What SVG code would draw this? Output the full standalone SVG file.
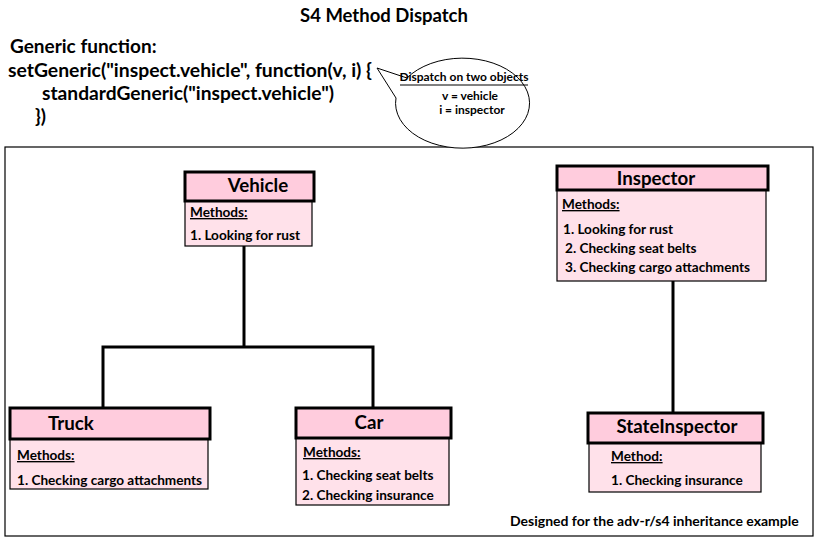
<svg xmlns="http://www.w3.org/2000/svg" width="818" height="543" viewBox="0 0 818 543">
<defs>
<style>
text{font-family:"Lato","Liberation Sans",sans-serif;font-weight:bold;fill:#000}
.title{font-size:18.5px}
.code{font-size:19px}
.hdr{fill:#FFCCDD;stroke:#000;stroke-width:3}
.body{fill:#FFE1EA;stroke:#000;stroke-width:1.2}
.name{font-size:18.7px}
.m{font-size:13.6px}
.u{text-decoration:underline}
.conn{fill:none;stroke:#000;stroke-width:3}
.bub{font-size:12px}
</style>
</defs>
<rect width="818" height="543" fill="#fff"/>
<text class="title" x="384" y="22" text-anchor="middle">S4 Method Dispatch</text>
<g id="code">
<text class="code" x="10" y="53">Generic function:</text>
<text class="code" x="8" y="77" textLength="364" lengthAdjust="spacingAndGlyphs">setGeneric("inspect.vehicle", function(v, i) {</text>
<text class="code" x="42" y="100" textLength="292" lengthAdjust="spacingAndGlyphs">standardGeneric("inspect.vehicle")</text>
<text class="code" x="35" y="123">})</text>
</g>
<rect x="5" y="147" width="808" height="389" fill="none" stroke="#000" stroke-width="1.2"/>
<g id="bubble">
<path d="M407,78 A67,45 0 1 1 396,98 L377,68 Z" fill="#fff" stroke="#000" stroke-width="1"/>
<text class="bub" x="464" y="81" text-anchor="middle">Dispatch on two objects</text>
<line x1="400" y1="85" x2="528" y2="85" stroke="#000" stroke-width="1"/>
<text class="bub" x="470" y="100" text-anchor="middle">v = vehicle</text>
<text class="bub" x="472" y="114" text-anchor="middle">i = inspector</text>
</g>
<g id="connectors">
<polyline class="conn" points="244,246 244,348"/>
<polyline class="conn" points="103,408 103,347 373,347 373,408"/>
<polyline class="conn" points="673,281 673,413"/>
</g>
<g id="vehicle">
<rect class="body" x="185" y="201" width="127" height="45"/>
<rect class="hdr" x="185" y="172" width="129" height="29"/>
<text class="name" x="258" y="192" text-anchor="middle">Vehicle</text>
<text class="m u" x="190" y="217">Methods:</text>
<text class="m" x="190" y="240">1. Looking for rust</text>
</g>
<g id="inspector">
<rect class="body" x="557" y="190" width="209" height="91"/>
<rect class="hdr" x="557" y="166" width="211" height="24"/>
<text class="name" x="656" y="185" text-anchor="middle">Inspector</text>
<text class="m u" x="562" y="209">Methods:</text>
<text class="m" x="563" y="234">1. Looking for rust</text>
<text class="m" x="565" y="253">2. Checking seat belts</text>
<text class="m" x="565" y="272">3. Checking cargo attachments</text>
</g>
<g id="truck">
<rect class="body" x="10" y="439" width="198" height="50"/>
<rect class="hdr" x="10" y="408" width="200" height="31"/>
<text class="name" x="48" y="430">Truck</text>
<text class="m u" x="17" y="460">Methods:</text>
<text class="m" x="17" y="485">1. Checking cargo attachments</text>
</g>
<g id="car">
<rect class="body" x="296" y="438" width="153" height="67"/>
<rect class="hdr" x="296" y="408" width="155" height="30"/>
<text class="name" x="369" y="429" text-anchor="middle">Car</text>
<text class="m u" x="303" y="457">Methods:</text>
<text class="m" x="302" y="480">1. Checking seat belts</text>
<text class="m" x="302" y="500">2. Checking insurance</text>
</g>
<g id="stateinspector">
<rect class="body" x="589" y="443" width="172" height="49"/>
<rect class="hdr" x="588" y="413" width="175" height="30"/>
<text class="name" x="677" y="433" text-anchor="middle">StateInspector</text>
<text class="m u" x="611" y="461">Method:</text>
<text class="m" x="611" y="485">1. Checking insurance</text>
</g>
<text class="m" x="510" y="526" style="font-size:14px">Designed for the adv-r/s4 inheritance example</text>
</svg>
